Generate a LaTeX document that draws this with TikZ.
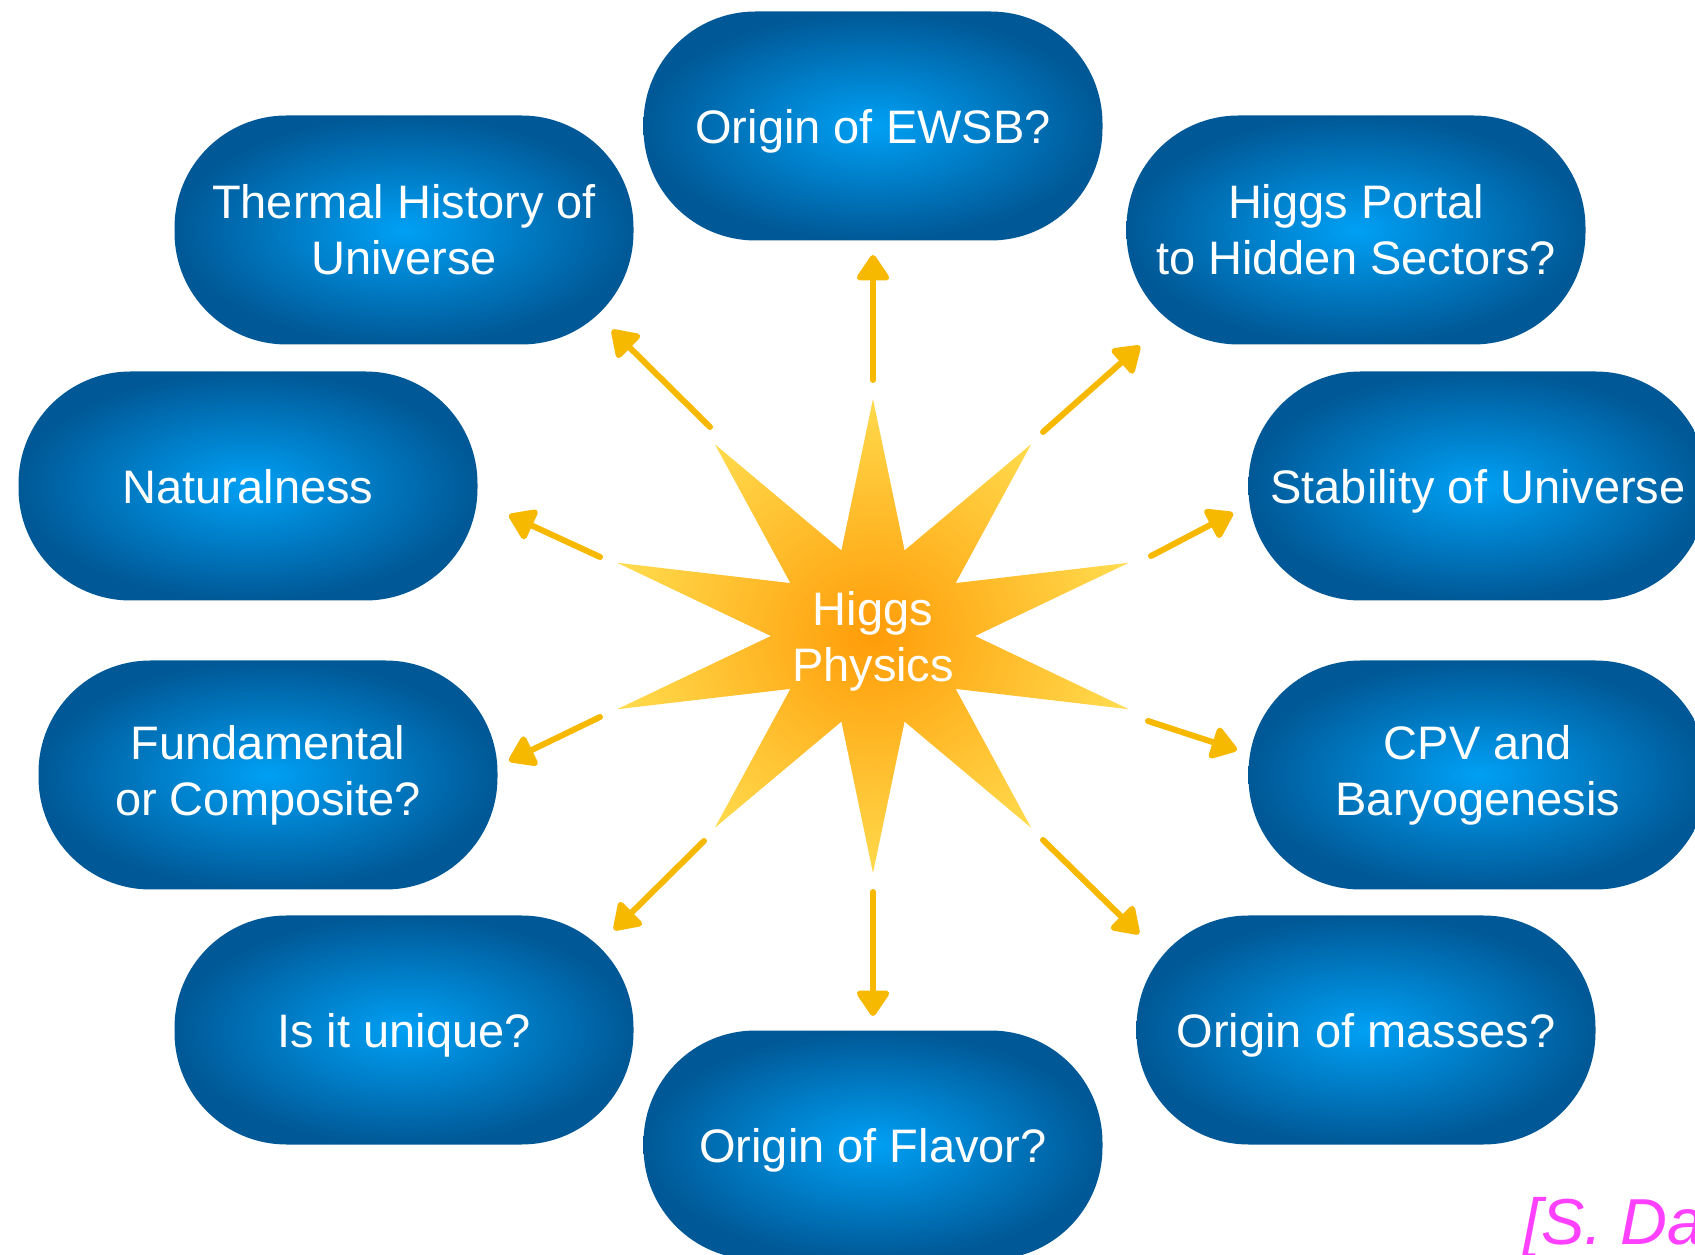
\documentclass[tikz,border=0pt]{standalone}
\usepackage{fontspec}
\setmainfont{Liberation Sans}
\usetikzlibrary{arrows.meta,calc}

\definecolor{pillin}{RGB}{0,160,245}
\definecolor{pillout}{RGB}{0,88,150}
\definecolor{starin}{RGB}{255,156,8}
\definecolor{starout}{RGB}{255,218,76}
\definecolor{raycol}{RGB}{247,184,0}
\definecolor{citecol}{RGB}{255,64,255}

\tikzset{
  topic/.style={rectangle, rounded corners=112pt, minimum width=459pt, minimum height=229pt,
    inner color=pillin, outer color=pillout, text=white, align=center,
    font=\fontsize{47}{56}\selectfont},
  oneline/.style={text depth=0pt},
  ray/.style={raycol, line width=6pt, line cap=round, -{Triangle[length=28pt,width=36pt,round]}},
}

\begin{document}
\begin{tikzpicture}[x=1pt,y=1pt]
	\useasboundingbox (0,0) rectangle (1695,1254);
	\shade[shift={(873,618)}, xscale=1.135, inner color=starin, outer color=starout]
		(90:237) \foreach \a in {90,126,...,414} {-- (\a:237) -- (\a+18:90)} -- cycle; % ten-point star
	\node[text=white, align=center, font=\fontsize{47}{56}\selectfont] (higgs) at (873,613) {Higgs\\Physics};
	\node[topic, oneline] (ewsb) at (873,1128) {Origin of EWSB?};
	\node[topic] (thermal) at (404,1024) {Thermal History of\\Universe};
	\node[topic] (portal) at (1356,1024) {Higgs Portal\\to Hidden Sectors?};
	\node[topic, oneline] (natural) at (248,768) {Naturalness};
	\node[topic, oneline] (stab) at (1478,768) {Stability of Universe};
	\node[topic] (fund) at (268,479) {Fundamental\\or Composite?};
	\node[topic] (cpv) at (1478,479) {CPV and\\Baryogenesis};
	\node[topic, oneline] (unique) at (404,224) {Is it unique?};
	\node[topic, oneline] (masses) at (1366,224) {Origin of masses?};
	\node[topic, oneline] (flavor) at (873,109) {Origin of Flavor?};
	% rays from the star towards each question
	\foreach \tgt/\sx/\sy/\ex/\ey in {ewsb/0/256/0/381, thermal/-163/209/-261/306, portal/170/204/267/290,
		natural/-273/79/-364/121, stab/278/80/360/123, fund/-273/-81/-364/-125, cpv/275/-85/364/-114,
		unique/-169/-205/-259/-294, masses/170/-204/266/-298, flavor/0/-256/0/-380} {
		\coordinate (\tgt-out) at ($(873,618)+(\sx,\sy)$);
		\coordinate (\tgt-in) at ($(873,618)+(\ex,\ey)$);
		\draw[ray] (\tgt-out) -- (\tgt-in);
	}
	\node[text=citecol, font=\fontsize{65}{78}\selectfont\itshape, anchor=base west, inner sep=0pt] (cite) at (1523,10) {[S. Da};
\end{tikzpicture}
\end{document}
